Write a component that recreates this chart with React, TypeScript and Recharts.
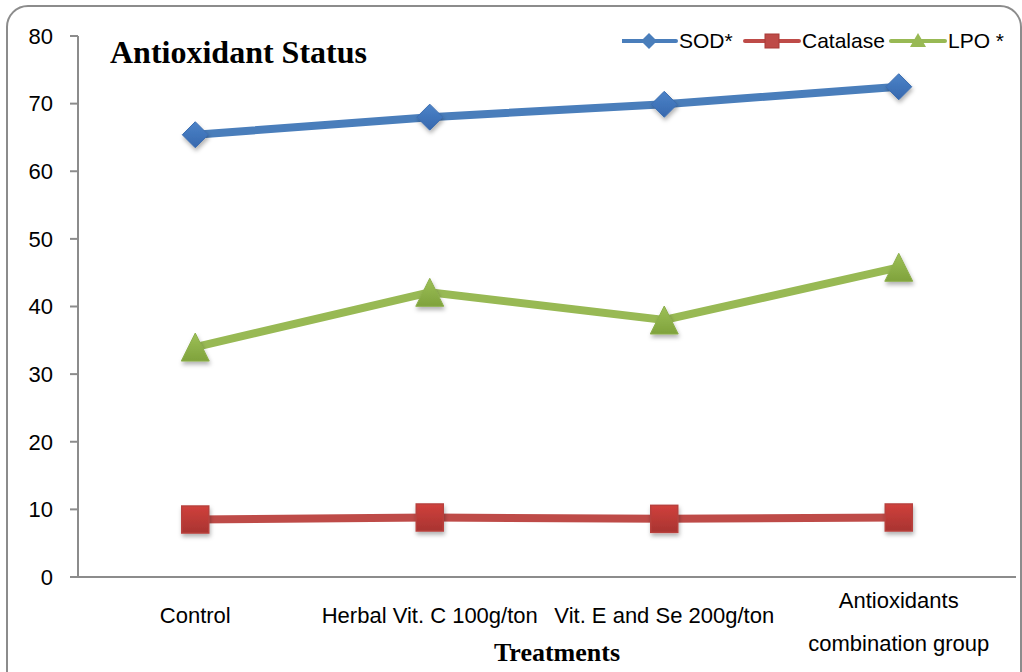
import React from "react";
import { LineChart, Line, XAxis, YAxis } from "recharts";

const categories = [
  "Control",
  "Herbal Vit. C 100g/ton",
  "Vit. E and Se 200g/ton",
  "Antioxidants combination group",
];
const categoryLines = [
  ["Control"],
  ["Herbal Vit. C 100g/ton"],
  ["Vit. E and Se 200g/ton"],
  ["Antioxidants", "combination group"],
];
const sod = [65.4, 68.0, 69.9, 72.5];
const catalase = [8.5, 8.8, 8.6, 8.8];
const lpo = [34.0, 42.1, 38.0, 45.8];
const yTicks = [0, 10, 20, 30, 40, 50, 60, 70, 80];
const boundaryTicks = [0, 1, 2, 3, 4];
const centerTicks = categories.map((_, i) => i + 0.5);

const data = categories.map((c, i) => ({
  x: i + 0.5,
  name: c,
  sod: sod[i],
  catalase: catalase[i],
  lpo: lpo[i],
}));

const BLUE = "#4A7EBB";
const RED = "#BE4B48";
const GREEN = "#98B954";
const SANS = "'Liberation Sans', Arial, sans-serif";

const Diamond = (props: any) => {
  const { cx, cy } = props;
  if (cx == null || cy == null) return null;
  const r = 13;
  return (
    <path
      d={`M${cx},${cy - r} L${cx + r},${cy} L${cx},${cy + r} L${cx - r},${cy} Z`}
      fill="url(#gBlue)"
      stroke="#3C6DB0"
      strokeWidth={1}
      filter="url(#shadow)"
    />
  );
};
const Square = (props: any) => {
  const { cx, cy } = props;
  if (cx == null || cy == null) return null;
  const r = 13.5;
  return (
    <rect
      x={cx - r}
      y={cy - r}
      width={2 * r}
      height={2 * r}
      fill="url(#gRed)"
      stroke="#B8403D"
      strokeWidth={1.5}
      filter="url(#shadow)"
    />
  );
};
const Triangle = (props: any) => {
  const { cx, cy } = props;
  if (cx == null || cy == null) return null;
  const w = 14;
  return (
    <path
      d={`M${cx},${cy - 14} L${cx + w},${cy + 14} L${cx - w},${cy + 14} Z`}
      fill="url(#gGreen)"
      stroke="#8DAF4C"
      strokeWidth={1}
      strokeLinejoin="round"
      filter="url(#shadow)"
    />
  );
};

const CategoryTick = (props: any) => {
  const { x, y, payload, index } = props;
  const lines = categoryLines[index] || [String(payload.value)];
  const startDy = lines.length === 1 ? 34 : 19;
  return (
    <g>
      {lines.map((l, k) => (
        <text
          key={k}
          x={x}
          y={y + startDy + k * 43}
          textAnchor="middle"
          fontFamily={SANS}
          fontSize={22}
          fill="#000"
        >
          {l}
        </text>
      ))}
    </g>
  );
};

const legendItems = [
  { name: "SOD*", color: BLUE, shape: "diamond" },
  { name: "Catalase", color: RED, shape: "square" },
  { name: "LPO *", color: GREEN, shape: "triangle" },
];

const LegendBox = () => (
  <svg width={400} height={30} style={{ display: "block" }}>
    {legendItems.map((it, i) => {
      const x0 = [0, 123, 269][i];
      const cx = x0 + 27;
      const cy = 15;
      let marker;
      if (it.shape === "diamond")
        marker = (
          <path d={`M${cx},${cy - 8} L${cx + 8},${cy} L${cx},${cy + 8} L${cx - 8},${cy} Z`} fill={BLUE} />
        );
      else if (it.shape === "square")
        marker = <rect x={cx - 7} y={cy - 7} width={14} height={14} fill={RED} stroke="#A83A37" />;
      else
        marker = <path d={`M${cx},${cy - 8} L${cx + 8},${cy + 6} L${cx - 8},${cy + 6} Z`} fill={GREEN} />;
      return (
        <g key={it.name}>
          <line x1={x0} y1={cy} x2={x0 + 54} y2={cy} stroke={it.color} strokeWidth={4} strokeLinecap="round" />
          {marker}
          <text x={x0 + 57} y={cy + 7} fontFamily={SANS} fontSize={21} fill="#000">
            {it.name}
          </text>
        </g>
      );
    })}
  </svg>
);

export default function App() {
  return (
    <div
      style={{
        position: "absolute",
        left: 0,
        top: 0,
        width: 1022,
        height: 672,
        overflow: "hidden",
        background: "#fff",
      }}
    >
      <svg width={0} height={0} style={{ position: "absolute" }}>
        <defs>
          <filter id="shadow" x="-50%" y="-50%" width="200%" height="200%">
            <feDropShadow dx="1" dy="3" stdDeviation="2" floodColor="#000" floodOpacity="0.3" />
          </filter>
          <linearGradient id="gBlue" x1="0" y1="0" x2="0" y2="1">
            <stop offset="0" stopColor="#4B83C8" />
            <stop offset="1" stopColor="#3768AE" />
          </linearGradient>
          <linearGradient id="gRed" x1="0" y1="0" x2="0" y2="1">
            <stop offset="0" stopColor="#D0403C" />
            <stop offset="1" stopColor="#A83431" />
          </linearGradient>
          <linearGradient id="gGreen" x1="0" y1="0" x2="0" y2="1">
            <stop offset="0" stopColor="#9DC057" />
            <stop offset="1" stopColor="#7FA23C" />
          </linearGradient>
        </defs>
      </svg>
      <div
        style={{
          position: "absolute",
          left: 6,
          top: 5,
          width: 1012,
          height: 720,
          border: "2px solid #8C8C8C",
          borderRadius: 22,
        }}
      />
      <div style={{ position: "absolute", left: 0, top: 0 }}>
        <LineChart
          width={1022}
          height={672}
          data={data}
          margin={{ top: 36, right: 6, bottom: 0, left: 0 }}
        >
          <XAxis
            xAxisId="b"
            type="number"
            dataKey="x"
            domain={[0, 4]}
            ticks={boundaryTicks}
            interval={0}
            tick={false}
            tickSize={8}
            height={12}
            axisLine={{ stroke: "#8C8C8C", strokeWidth: 2 }}
            tickLine={{ stroke: "#8C8C8C", strokeWidth: 2 }}
          />
          <XAxis
            xAxisId="c"
            type="number"
            dataKey="x"
            domain={[0, 4]}
            ticks={centerTicks}
            interval={0}
            tick={<CategoryTick />}
            tickSize={0}
            tickMargin={0}
            height={83}
            axisLine={false}
            tickLine={false}
          />
          <YAxis
            type="number"
            domain={[0, 80]}
            ticks={yTicks}
            interval={0}
            width={78}
            tickSize={8}
            tickMargin={17}
            axisLine={{ stroke: "#8C8C8C", strokeWidth: 2 }}
            tickLine={{ stroke: "#8C8C8C", strokeWidth: 2 }}
            tick={{ fill: "#000", fontSize: 22, fontFamily: SANS }}
          />
          <Line
            xAxisId="b"
            dataKey="sod"
            name="SOD*"
            stroke={BLUE}
            strokeWidth={8}
            dot={<Diamond />}
            activeDot={false}
            isAnimationActive={false}
          />
          <Line
            xAxisId="b"
            dataKey="catalase"
            name="Catalase"
            stroke={RED}
            strokeWidth={8}
            dot={<Square />}
            activeDot={false}
            isAnimationActive={false}
          />
          <Line
            xAxisId="b"
            dataKey="lpo"
            name="LPO *"
            stroke={GREEN}
            strokeWidth={8}
            dot={<Triangle />}
            activeDot={false}
            isAnimationActive={false}
          />
        </LineChart>
      </div>
      <div
        style={{
          position: "absolute",
          left: 110,
          top: 34,
          fontFamily: "'Liberation Serif', 'Times New Roman', serif",
          fontWeight: "bold",
          fontSize: 32,
          lineHeight: "36px",
          color: "#000",
        }}
      >
        Antioxidant Status
      </div>
      <div
        style={{
          position: "absolute",
          left: 457,
          width: 200,
          textAlign: "center",
          top: 638,
          fontFamily: "'Liberation Serif', 'Times New Roman', serif",
          fontWeight: "bold",
          fontSize: 26,
          lineHeight: "30px",
          color: "#000",
        }}
      >
        Treatments
      </div>
      <div style={{ position: "absolute", left: 622, top: 26 }}>
        <LegendBox />
      </div>
    </div>
  );
}
